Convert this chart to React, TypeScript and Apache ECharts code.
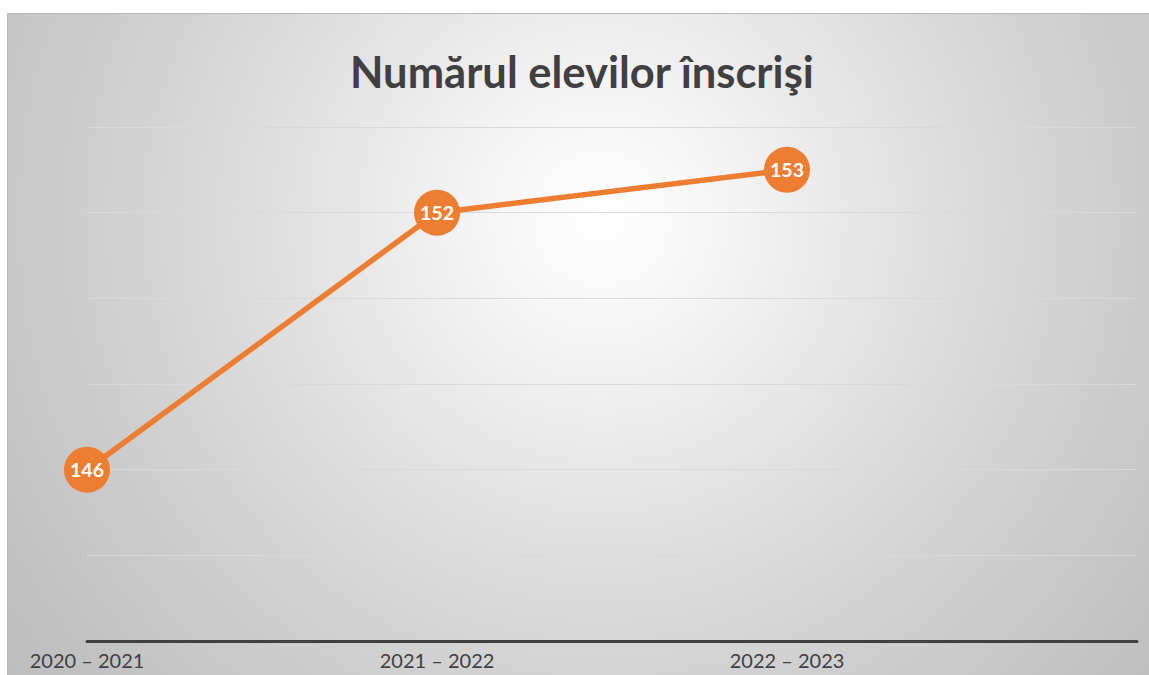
import React, { useEffect, useRef } from "react";
import * as echarts from "echarts";

const title = "Numărul elevilor înscrişi";
const categories = ["2020 – 2021", "2021 – 2022", "2022 – 2023", ""];
const values: (number | null)[] = [146, 152, 153, null];
const yMin = 142;
const yMax = 154;
const yInterval = 2;

export default function App() {
  const ref = useRef<HTMLDivElement>(null);
  useEffect(() => {
    document.body.style.margin = "0";
    document.body.style.overflow = "hidden";
    if (!ref.current) return;
    const chart = echarts.init(ref.current, undefined, { renderer: "svg" });
    chart.setOption({
      animation: false,
      title: {
        text: title,
        left: 338,
        top: 31,
        textStyle: {
          fontFamily: "Lato",
          fontWeight: "bold",
          fontSize: 43.5,
          color: "#404040",
        },
      },
      grid: { left: 80, right: 12, top: 114, bottom: 34 },
      xAxis: {
        type: "category",
        data: categories,
        boundaryGap: false,
        axisLine: { lineStyle: { color: "#404040", width: 3 } },
        axisTick: { show: false },
        axisLabel: {
          fontFamily: "Lato",
          fontSize: 20,
          color: "#404040",
          margin: 9,
        },
      },
      yAxis: {
        type: "value",
        min: yMin,
        max: yMax,
        interval: yInterval,
        axisLabel: { show: false },
        axisLine: { show: false },
        axisTick: { show: false },
        splitLine: { lineStyle: { color: "#d9d9d9", width: 1 } },
      },
      series: [
        {
          type: "line",
          data: values,
          symbol: "circle",
          symbolSize: 46,
          lineStyle: { color: "#ED7D31", width: 5.5 },
          itemStyle: { color: "#ED7D31" },
          label: {
            show: true,
            position: "inside",
            fontFamily: "Lato",
            fontWeight: "bold",
            fontSize: 19.5,
            color: "#ffffff",
          },
        },
      ],
    });
    return () => chart.dispose();
  }, []);
  return (
    <div style={{ position: "relative", width: 1149, height: 675, background: "#ffffff", overflow: "hidden" }}>
      <div
        style={{
          position: "absolute",
          left: 7,
          top: 13,
          width: 1142,
          height: 662,
          boxSizing: "border-box",
          borderTop: "1px solid #b8b8b8",
          borderLeft: "1px solid #b8b8b8",
          background:
            "radial-gradient(circle at 52% 31%, #ffffff 0px, #f6f6f6 110px, #e2e2e2 300px, #cfcfcf 500px, #c1c1c1 680px, #bbbbbb 800px)",
        }}
      >
        <div ref={ref} style={{ position: "absolute", left: -1, top: -1, width: 1142, height: 662 }} />
      </div>
    </div>
  );
}
